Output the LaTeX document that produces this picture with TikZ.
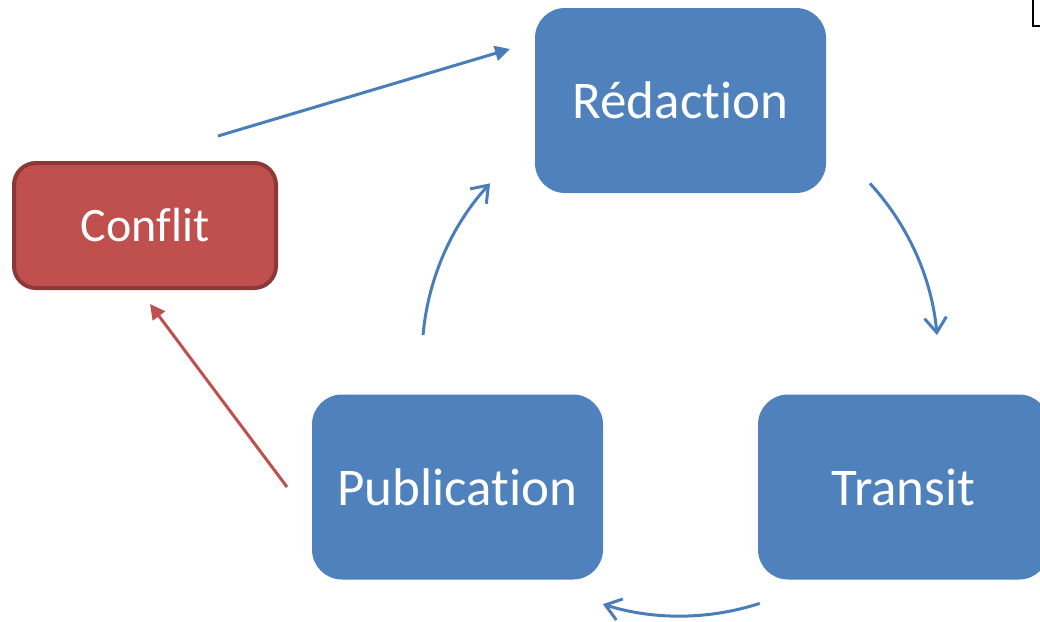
\documentclass[tikz,border=0pt]{standalone}
\usepackage{fontspec}
\setmainfont[Ligatures=NoCommon]{Carlito}
\usetikzlibrary{arrows.meta}
\definecolor{boxblue}{HTML}{4F81BD}
\definecolor{arrblue}{HTML}{4A7EBB}
\definecolor{boxred}{HTML}{C0504D}
\definecolor{edgered}{HTML}{8C3836}
\begin{document}
\begin{tikzpicture}[x=1pt,y=1pt,
  stepbox/.style={rectangle, rounded corners=30pt, fill=boxblue, minimum width=291pt,
    minimum height=185pt, inner sep=0pt, text=white, font=\fontsize{53}{60}\selectfont},
  conflictbox/.style={rectangle, rounded corners=22pt, fill=boxred, draw=edgered,
    line width=4pt, minimum width=262pt, minimum height=125pt, inner sep=0pt,
    text=white, font=\fontsize{48}{56}\selectfont},
  cyc/.style={draw=arrblue, line width=3pt,
    -{Straight Barb[length=15pt,width=22pt,line width=3pt]}},
  bluetri/.style={draw=arrblue, line width=3pt, -{Triangle[length=15pt,width=15pt]}, arrblue},
  redtri/.style={draw=boxred, line width=3pt, -{Triangle[length=15pt,width=15pt]}, boxred},
  bracket/.style={draw=black, line width=1.3pt}
]
\clip (0,0) rectangle (1040,-621);
\fill[white] (0,0) rectangle (1040,-621);

\node[stepbox] (red) at (680.5,-100.5) {Rédaction};
\node[stepbox] (pub) at (457.5,-487) {Publication};
\node[stepbox] (tra) at (903.5,-487) {Transit};
\node[conflictbox] (con) at (145,-225.5) {Conflit};

\coordinate (cc) at (680,-358);
\coordinate (a1) at ([shift={(42.6:258)}]cc);
\coordinate (b1) at ([shift={(-72:258)}]cc);
\coordinate (c1) at ([shift={(174.9:258)}]cc);

\draw[cyc] (a1) arc[start angle=42.6, end angle=5.1, radius=258];
\draw[cyc] (b1) arc[start angle=-72, end angle=-107.4, radius=258];
\draw[cyc] (c1) arc[start angle=174.9, end angle=137.4, radius=258];

\coordinate (s1) at (218,-136);
\coordinate (e1) at (510,-49);
\draw[bluetri] (s1) -- (e1);

\coordinate (s2) at (287,-487);
\coordinate (e2) at (150,-304);
\draw[redtri] (s2) -- (e2);

\draw[bracket] (1033,0) -- (1033,-26) -- (1042,-26);
\end{tikzpicture}
\end{document}
